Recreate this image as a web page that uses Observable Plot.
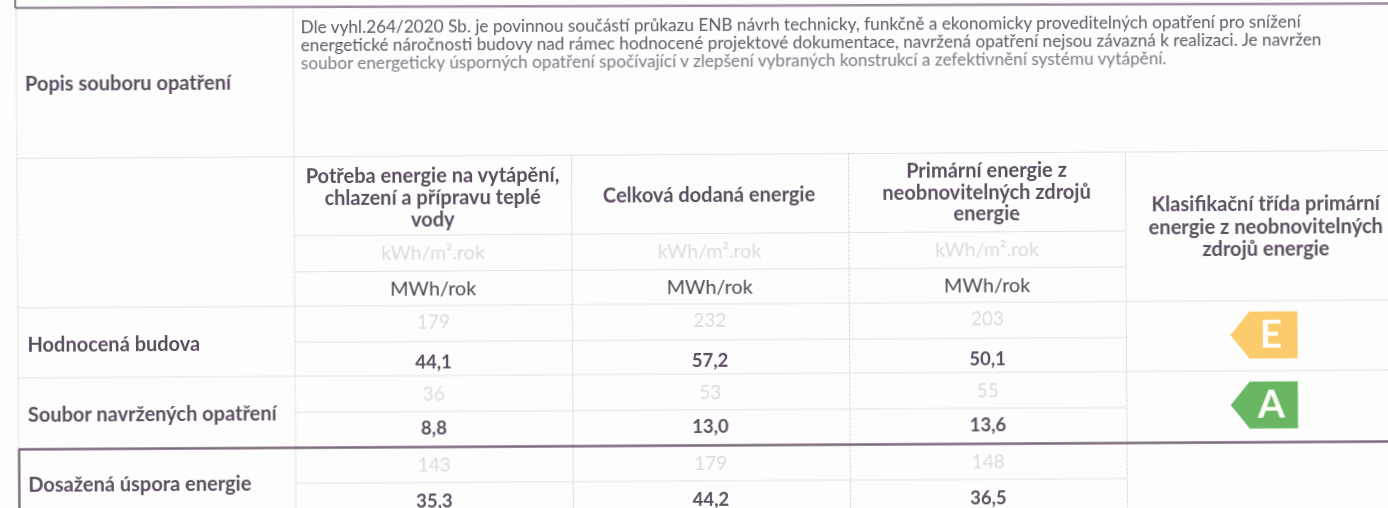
<!DOCTYPE html>
<html lang="cs">
<head>
<meta charset="utf-8">
<script src="https://cdn.jsdelivr.net/npm/d3@7"></script>
<script src="https://cdn.jsdelivr.net/npm/@observablehq/plot@0.6"></script>
<style>
html,body{margin:0;padding:0;width:1388px;height:508px;overflow:hidden;background:#fefdfe}
</style>
</head>
<body>
<div id="chart"></div>
<script>
// ---- content ----
const descriptionTitle = "Popis souboru opatření";
const descriptionLines = [
  "Dle vyhl.264/2020 Sb. je povinnou součástí průkazu ENB návrh technicky, funkčně a ekonomicky proveditelných opatření pro snížení",
  "energetické náročnosti budovy nad rámec hodnocené projektové dokumentace, navržená opatření nejsou závazná k realizaci. Je navržen",
  "soubor energeticky úsporných opatření spočívající v zlepšení vybraných konstrukcí a zefektivnění systému vytápění."
];
const columnHeaders = [
  "Potřeba energie na vytápění,\nchlazení a přípravu teplé\nvody",
  "Celková dodaná energie",
  "Primární energie z\nneobnovitelných zdrojů\nenergie"
];
const classHeader = "Klasifikační třída primární\nenergie z neobnovitelných\nzdrojů energie";
const unitArea = "kWh/m².rok";
const unitTotal = "MWh/rok";
const rowLabels = ["Hodnocená budova", "Soubor navržených opatření", "Dosažená úspora energie"];
const areaValues = [[179, 232, 203], [36, 53, 55], [143, 179, 148]];
const totalValues = [["44,1", "57,2", "50,1"], ["8,8", "13,0", "13,6"], ["35,3", "44,2", "36,5"]];
const classes = ["E", "A"];
const classColors = ["#fccb6b", "#69b763"];

// ---- layout ----
const W = 1400, H = 540;
const LEFT = 15.5, C0 = 292.5, C1 = 570, C2 = 847, C3 = 1124;
const colCenters = [431, 707.5, 985];
const unitAreaY = 255.5, unitTotalY = 291;
const rowCenters = [345, 415, 485];
const rowAreaY = [324.5, 396.5, 467.5];
const rowTotalY = [364.5, 430.5, 503.5];
const headerY = [199.5, 199, 197.5];
const classX = 1261.5, classY = [341.8, 411.8];
const DARK = "#5c4f60", PALE = "#dcdade", LINE = "#dcd9dc", THICK = "#7a6a7a";
const FONT = "Lato";

const hFull = [158, 307.5, 377.5].map(y => ({y, x1: LEFT, x2: W}));
const hInner = [237, 273, 343.5, 413.5, 484.5].map(y => ({y, x1: C0, x2: C3}));
const vLines = [
  {x: LEFT, y1: 9, y2: 449},
  {x: C0, y1: 9, y2: H},
  {x: C1, y1: 158, y2: H},
  {x: C2, y1: 158, y2: H},
  {x: C3, y1: 158, y2: H}
];

// tag-shaped class marker, pointing left
const tagSymbol = {
  draw(ctx, size) {
    const r = Math.sqrt(size / Math.PI);
    ctx.moveTo(1.43 * r, -r);
    ctx.lineTo(1.43 * r, r);
    ctx.lineTo(-0.62 * r, r);
    ctx.lineTo(-1.43 * r, 0);
    ctx.lineTo(-0.62 * r, -r);
    ctx.closePath();
  }
};

const areaRows = areaValues.flatMap((vals, r) => vals.map((v, c) => ({v: String(v), x: colCenters[c], y: rowAreaY[r]})));
const totalRows = totalValues.flatMap((vals, r) => vals.map((v, c) => ({v, x: colCenters[c], y: rowTotalY[r]})));

const chart = Plot.plot({
  width: W, height: H,
  margin: 0,
  x: {type: "linear", domain: [0, W], range: [0, W], axis: null},
  y: {type: "linear", domain: [0, H], range: [0, H], axis: null},
  style: {
    background: "transparent",
    overflow: "visible",
    maxWidth: "none",
    transform: "rotate(-0.33deg)",
    transformOrigin: "0 0",
    filter: "blur(0.35px)",
    fontFamily: FONT
  },
  marks: [
    Plot.ruleY(hFull, {y: "y", x1: "x1", x2: "x2", stroke: LINE, strokeWidth: 1, strokeDasharray: "3,1"}),
    Plot.ruleY(hInner, {y: "y", x1: "x1", x2: "x2", stroke: LINE, strokeWidth: 1, strokeDasharray: "3,1"}),
    Plot.ruleX(vLines, {x: "x", y1: "y1", y2: "y2", stroke: LINE, strokeWidth: 1, strokeDasharray: "3,1"}),

    // thick frame lines
    Plot.link([{x1: 14.7, y1: 7.5, x2: W, y2: 11}], {x1: "x1", y1: "y1", x2: "x2", y2: "y2", stroke: "#9a8e9c", strokeWidth: 2.5}),
    Plot.ruleX([{x: 14.7, y1: -5, y2: 8}], {x: "x", y1: "y1", y2: "y2", stroke: "#8a7c8c", strokeWidth: 2}),
    Plot.ruleY([{y: 449, x1: 16, x2: W}], {y: "y", x1: "x1", x2: "x2", stroke: THICK, strokeWidth: 2.6}),
    Plot.ruleX([{x: 16, y1: 449, y2: H}], {x: "x", y1: "y1", y2: "y2", stroke: THICK, strokeWidth: 2.4}),

    // description block
    Plot.text([descriptionTitle], {x: 24, y: 84, text: d => d, textAnchor: "start", fontSize: 20, fontWeight: 700, fill: DARK}),
    Plot.text(descriptionLines.slice(0, 2), {
      x: 300, y: (d, i) => [28.5, 47][i], text: d => d, textAnchor: "start",
      fontSize: [17.2, 17.4][0], fill: "#5f5a66"
    }),
    Plot.text(descriptionLines.slice(2), {
      x: 300, y: 65, text: d => d, textAnchor: "start",
      fontSize: 17.2, fill: "#7f7a84"
    }),

    // headers
    Plot.text(columnHeaders, {
      x: (d, i) => colCenters[i], y: (d, i) => headerY[i], text: d => d,
      fontSize: 20, fontWeight: 700, fill: DARK, lineHeight: 1.08
    }),
    Plot.text([classHeader], {
      x: 1264, y: 233, text: d => d,
      fontSize: 20.1, fontWeight: 700, fill: DARK, lineHeight: 1.13
    }),
    Plot.text(colCenters, {x: d => d, y: unitAreaY, text: () => unitArea, fontSize: 19.5, fill: PALE}),
    Plot.text(colCenters, {x: d => d, y: unitTotalY, text: () => unitTotal, fontSize: 19.8, fill: "#4d4a52"}),

    // row labels and values
    Plot.text(rowLabels, {x: 25, y: (d, i) => rowCenters[i], text: d => d, textAnchor: "start", fontSize: 20, fontWeight: 700, fill: DARK}),
    Plot.text(areaRows, {x: "x", y: "y", text: "v", fontSize: 19, fill: PALE}),
    Plot.text(totalRows, {x: "x", y: "y", text: "v", fontSize: 18.5, fontWeight: 700, fill: DARK}),

    // class tags
    Plot.dot(classes, {x: classX, y: (d, i) => classY[i], r: 23.5, symbol: tagSymbol, fill: (d, i) => classColors[i], stroke: "none"}),
    Plot.text(classes, {x: classX + 7, y: (d, i) => classY[i], text: d => d, fontFamily: "'Liberation Sans Narrow', Lato", fontSize: 39, fontWeight: 700, fill: "#fffdf8"})
  ]
});
document.getElementById("chart").appendChild(chart);
</script>
</body>
</html>
